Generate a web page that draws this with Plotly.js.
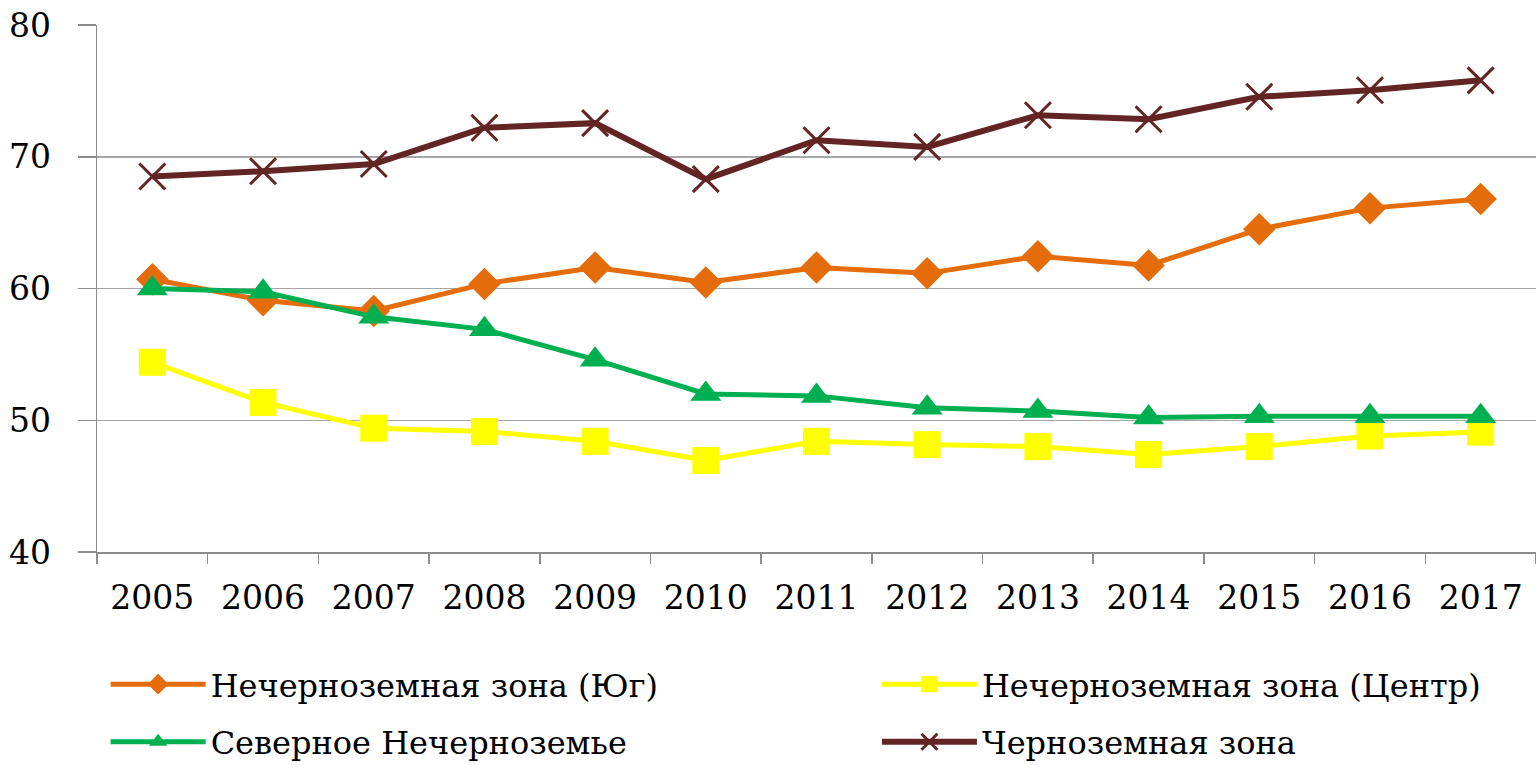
<!DOCTYPE html>
<html>
<head>
<meta charset="utf-8">
<script src="https://cdn.plot.ly/plotly-3.0.1.min.js"></script>
<style>html,body{margin:0;padding:0;background:#fff;}#chart{width:1536px;height:765px;}</style>
</head>
<body>
<div id="chart"></div>
<script>
const years = ['2005','2006','2007','2008','2009','2010','2011','2012','2013','2014','2015','2016','2017'];
const yugValues = [60.7, 59.1, 58.3, 60.35, 61.6, 60.45, 61.6, 61.15, 62.45, 61.75, 64.5, 66.1, 66.8];
const centerValues = [54.4, 51.35, 49.4, 49.15, 48.4, 46.95, 48.4, 48.15, 48.0, 47.4, 48.0, 48.8, 49.1];
const northValues = [60.0, 59.75, 57.85, 56.9, 54.6, 52.0, 51.85, 50.95, 50.7, 50.2, 50.3, 50.3, 50.3];
const blackEarthValues = [68.5, 68.9, 69.45, 72.2, 72.55, 68.3, 71.25, 70.75, 73.15, 72.85, 74.55, 75.05, 75.8];
const seriesNames = ['Нечерноземная зона (Юг)', 'Нечерноземная зона (Центр)', 'Северное Нечерноземье', 'Черноземная зона'];

const FONT = 'DejaVu Serif, Liberation Serif, serif';

const traces = [
  {x: years, y: yugValues, name: seriesNames[0], type: 'scatter', mode: 'lines+markers',
   line: {color: '#E46C0A', width: 5}, marker: {symbol: 'diamond', size: 25, color: '#E46C0A'},
   legend: 'legend', legendgroup: 'g1'},
  {x: years, y: centerValues, name: seriesNames[1], type: 'scatter', mode: 'lines+markers',
   line: {color: '#FFFF00', width: 5}, marker: {symbol: 'square', size: 27, color: '#FFFF00'},
   legend: 'legend2', legendgroup: 'g2'},
  {x: years, y: northValues, name: seriesNames[2], type: 'scatter', mode: 'lines+markers',
   line: {color: '#00B050', width: 5}, marker: {symbol: 'triangle-up', size: 27, color: '#00B050'},
   legend: 'legend', legendgroup: 'g3'},
  {x: years, y: blackEarthValues, name: seriesNames[3], type: 'scatter', mode: 'lines+markers',
   line: {color: '#632523', width: 6}, marker: {symbol: 'x-thin', size: 26, color: '#632523', line: {color: '#632523', width: 3}},
   legend: 'legend2', legendgroup: 'g4'}
];

const legendCommon = {
  orientation: 'v', yanchor: 'top', xanchor: 'left',
  font: {family: FONT, size: 32, color: '#000'},
  itemwidth: 95, tracegroupgap: 13, bgcolor: 'rgba(0,0,0,0)', itemclick: false
};

const layout = {
  width: 1536, height: 765,
  margin: {l: 97, r: 0, t: 25, b: 213, pad: 0, autoexpand: false},
  paper_bgcolor: '#fff', plot_bgcolor: '#fff',
  font: {family: FONT, color: '#000'},
  showlegend: true,
  xaxis: {
    type: 'category', range: [-0.5, years.length - 0.5], autorange: false,
    showline: true, linecolor: '#8c8c8c', linewidth: 1.5, automargin: false,
    ticks: 'outside', tickson: 'boundaries', ticklen: 10, tickcolor: '#8c8c8c', tickwidth: 1.5,
    showgrid: false, tickfont: {family: FONT, size: 33, color: '#000'}, ticklabelstandoff: 16,
    fixedrange: true
  },
  yaxis: {
    range: [40, 80], dtick: 10, tick0: 40, showline: true, linecolor: '#8c8c8c', linewidth: 1.5, automargin: false,
    ticks: 'outside', ticklen: 18, tickcolor: '#8c8c8c', tickwidth: 1.5,
    showgrid: true, gridcolor: '#a6a6a6', gridwidth: 1.5, zeroline: false,
    tickfont: {family: FONT, size: 33, color: '#000'}, ticklabelstandoff: 20,
    fixedrange: true
  },
  legend: Object.assign({x: 0.006, y: -0.199}, legendCommon),
  legend2: Object.assign({x: 0.542, y: -0.199}, legendCommon)
};

Plotly.newPlot('chart', traces, layout, {displayModeBar: false, staticPlot: true});
</script>
</body>
</html>
